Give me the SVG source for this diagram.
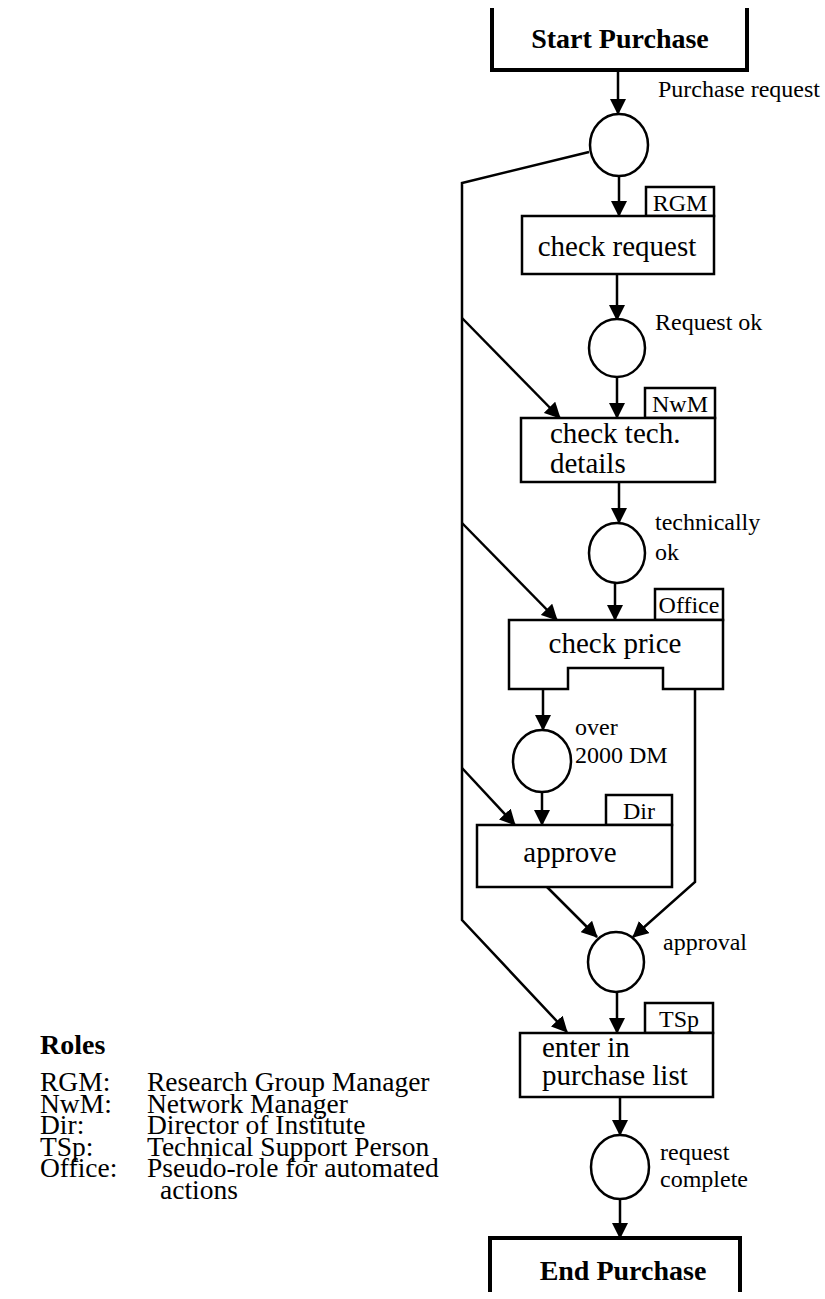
<svg xmlns="http://www.w3.org/2000/svg" width="825" height="1299" viewBox="0 0 825 1299">
<style>
text{font-family:"Liberation Serif","Times New Roman",serif;fill:#000}
.b{font-weight:bold;font-size:28px}
.lab{font-size:24px}
.box{font-size:29px}
.tag{font-size:24px}
.leg{font-size:27.5px}
.node{fill:#fff;stroke:#000;stroke-width:2.5}
.term{fill:none;stroke:#000;stroke-width:4}
.c{fill:none;stroke:#000;stroke-width:2.5}
</style>
<defs>
<marker id="ah" markerUnits="userSpaceOnUse" markerWidth="16" markerHeight="16" viewBox="0 0 16 16" refX="15" refY="8" orient="auto">
<path d="M0,0 L16,8 L0,16 z" fill="#000"/>
</marker>
</defs>
<rect width="825" height="1299" fill="#fff"/>
<g id="connectors">
<path class="c" d="M618,70 V114" marker-end="url(#ah)"/>
<path class="c" d="M619,177 V216" marker-end="url(#ah)"/>
<path class="c" d="M589,152 L462,183 V920 L567,1032" marker-end="url(#ah)"/>
<path class="c" d="M462,318 L560,418" marker-end="url(#ah)"/>
<path class="c" d="M462,523 L557,620" marker-end="url(#ah)"/>
<path class="c" d="M462,768 L515,825" marker-end="url(#ah)"/>
<path class="c" d="M617,274 V320" marker-end="url(#ah)"/>
<path class="c" d="M617,377 V418" marker-end="url(#ah)"/>
<path class="c" d="M619,482 V523" marker-end="url(#ah)"/>
<path class="c" d="M615,582 V620" marker-end="url(#ah)"/>
<path class="c" d="M543,689 V730" marker-end="url(#ah)"/>
<path class="c" d="M542,792 V825" marker-end="url(#ah)"/>
<path class="c" d="M695,689 V882 L633,937" marker-end="url(#ah)"/>
<path class="c" d="M547,887 L597,937" marker-end="url(#ah)"/>
<path class="c" d="M617,993 V1033" marker-end="url(#ah)"/>
<path class="c" d="M620,1097 V1135" marker-end="url(#ah)"/>
<path class="c" d="M620,1200 V1238" marker-end="url(#ah)"/>
</g>
<g id="start">
<path class="term" d="M492,8 V70 H747 V8"/>
<text class="b" x="620" y="48" text-anchor="middle">Start Purchase</text>
</g>
<g id="p-purchase-request">
<ellipse class="node" cx="619" cy="145" rx="29" ry="31"/>
<text class="lab" x="658" y="97">Purchase request</text>
</g>
<g id="t-check-request">
<rect class="node" x="646" y="187" width="68" height="29"/>
<text class="tag" x="680" y="211" text-anchor="middle">RGM</text>
<rect class="node" x="522" y="216" width="192" height="58"/>
<text class="box" x="617" y="256" text-anchor="middle">check request</text>
</g>
<g id="p-request-ok">
<ellipse class="node" cx="617" cy="348" rx="28" ry="29"/>
<text class="lab" x="655" y="330">Request ok</text>
</g>
<g id="t-check-tech">
<rect class="node" x="645" y="388" width="70" height="30"/>
<text class="tag" x="680" y="412" text-anchor="middle">NwM</text>
<rect class="node" x="521" y="418" width="194" height="64"/>
<text class="box" x="550" y="443">check tech.</text>
<text class="box" x="550" y="473">details</text>
</g>
<g id="p-technically-ok">
<ellipse class="node" cx="617" cy="553" rx="28" ry="30"/>
<text class="lab" x="655" y="530">technically</text>
<text class="lab" x="655" y="560">ok</text>
</g>
<g id="t-check-price">
<rect class="node" x="655" y="589" width="68" height="31"/>
<text class="tag" x="689" y="613" text-anchor="middle">Office</text>
<path class="node" d="M509,620 H723 V689 H663 V668 H568 V689 H509 Z"/>
<text class="box" x="615" y="653" text-anchor="middle">check price</text>
</g>
<g id="p-over-2000">
<ellipse class="node" cx="542" cy="761" rx="29" ry="31"/>
<text class="lab" x="575" y="735">over</text>
<text class="lab" x="575" y="763">2000 DM</text>
</g>
<g id="t-approve">
<rect class="node" x="606" y="795" width="66" height="30"/>
<text class="tag" x="639" y="819" text-anchor="middle">Dir</text>
<rect class="node" x="477" y="825" width="195" height="62"/>
<text class="box" x="570" y="862" text-anchor="middle">approve</text>
</g>
<g id="p-approval">
<ellipse class="node" cx="616" cy="962" rx="28" ry="30"/>
<text class="lab" x="663" y="950">approval</text>
</g>
<g id="t-enter">
<rect class="node" x="645" y="1003" width="68" height="30"/>
<text class="tag" x="679" y="1027" text-anchor="middle">TSp</text>
<rect class="node" x="520" y="1033" width="193" height="64"/>
<text class="box" x="542" y="1057">enter in</text>
<text class="box" x="542" y="1085">purchase list</text>
</g>
<g id="p-request-complete">
<ellipse class="node" cx="620" cy="1167" rx="29" ry="32"/>
<text class="lab" x="660" y="1160">request</text>
<text class="lab" x="660" y="1187">complete</text>
</g>
<g id="end">
<path class="term" d="M490,1292 V1238 H740 V1292"/>
<text class="b" x="623" y="1280" text-anchor="middle">End Purchase</text>
</g>
<g id="legend">
<text x="40" y="1054" style="font-weight:bold;font-size:28px">Roles</text>
<text class="leg" x="40" y="1091">RGM:</text><text class="leg" x="147" y="1091">Research Group Manager</text>
<text class="leg" x="40" y="1113">NwM:</text><text class="leg" x="147" y="1113">Network Manager</text>
<text class="leg" x="40" y="1134">Dir:</text><text class="leg" x="147" y="1134">Director of Institute</text>
<text class="leg" x="40" y="1156">TSp:</text><text class="leg" x="147" y="1156">Technical Support Person</text>
<text class="leg" x="40" y="1177">Office:</text><text class="leg" x="147" y="1177">Pseudo-role for automated</text>
<text class="leg" x="160" y="1199">actions</text>
</g>
</svg>
